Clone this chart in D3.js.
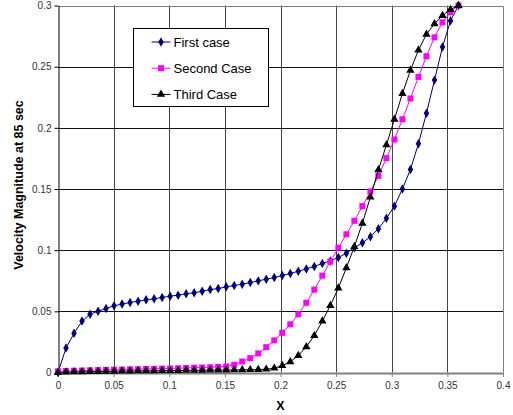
<!DOCTYPE html>
<html>
<head>
<meta charset="utf-8">
<script src="https://cdn.jsdelivr.net/npm/d3@7"></script>
<style>
	body { margin: 0; background: #fff; }
	svg { display: block; font-family: Arial, "Liberation Sans", sans-serif; }
</style>
</head>
<body>
<div id="container"></div>
<script>
// data
var xValues = [0, 0.0072, 0.0144, 0.0216, 0.0288, 0.036, 0.0432, 0.0504, 0.0576, 0.0648,
	0.072, 0.0792, 0.0864, 0.0936, 0.1008, 0.108, 0.1152, 0.1224, 0.1296, 0.1368,
	0.144, 0.1512, 0.1584, 0.1656, 0.1728, 0.18, 0.1872, 0.1944, 0.2016, 0.2088,
	0.216, 0.2232, 0.2304, 0.2376, 0.2448, 0.252, 0.2592, 0.2664, 0.2736, 0.2808,
	0.288, 0.2952, 0.3024, 0.3096, 0.3168, 0.324, 0.3312, 0.3384, 0.3456, 0.3528, 0.36];

var firstCase = [0, 0.020, 0.032, 0.042, 0.0477, 0.050, 0.0523, 0.0545, 0.0559, 0.0572,
	0.0583, 0.0594, 0.0602, 0.0613, 0.0624, 0.0632, 0.0643, 0.0652, 0.0664, 0.0678,
	0.0686, 0.070, 0.0711, 0.0722, 0.0735, 0.0749, 0.0763, 0.0776, 0.0793, 0.0809,
	0.0828, 0.0847, 0.0866, 0.0892, 0.0912, 0.094, 0.0975, 0.102, 0.106, 0.111,
	0.1175, 0.126, 0.136, 0.150, 0.166, 0.187, 0.212, 0.239, 0.266, 0.2875, 0.300];

var secondCase = [0.001, 0.0012, 0.0014, 0.0016, 0.0018, 0.002, 0.0021, 0.0023, 0.0024, 0.0026,
	0.0027, 0.0029, 0.003, 0.0032, 0.0033, 0.0035, 0.0037, 0.0039, 0.0041, 0.0043,
	0.0046, 0.005, 0.0063, 0.009, 0.0117, 0.0156, 0.0207, 0.0263, 0.0324, 0.0394,
	0.0476, 0.057, 0.0677, 0.0792, 0.0907, 0.102, 0.113, 0.124, 0.136, 0.148,
	0.1607, 0.1752, 0.1905, 0.207, 0.224, 0.2416, 0.2585, 0.274, 0.2863, 0.2945, 0.300];

var thirdCase = [0, 0.0003, 0.0005, 0.0006, 0.0007, 0.0008, 0.0009, 0.001, 0.0011, 0.0012,
	0.0013, 0.0014, 0.0014, 0.0015, 0.0016, 0.0016, 0.0017, 0.0018, 0.0018, 0.0019,
	0.002, 0.002, 0.0021, 0.0022, 0.0023, 0.0024, 0.0027, 0.0035, 0.0056, 0.0088,
	0.0139, 0.021, 0.0302, 0.042, 0.0547, 0.069, 0.0855, 0.103, 0.122, 0.1433,
	0.1656, 0.186, 0.207, 0.228, 0.247, 0.2635, 0.2765, 0.285, 0.2918, 0.2967, 0.300];

var seriesNames = ["First case", "Second Case", "Third Case"];
var xTicks = [0, 0.05, 0.1, 0.15, 0.2, 0.25, 0.3, 0.35, 0.4];
var yTicks = [0, 0.05, 0.1, 0.15, 0.2, 0.25, 0.3];

var W = 513, H = 415;
var margin = {left: 58, top: 5.5, right: 10, bottom: 42.5};

var svg = d3.select("#container").append("svg")
	.attr("width", W)
	.attr("height", H)

var x = d3.scaleLinear().domain([0, 0.4]).range([margin.left, W - margin.right]);
var y = d3.scaleLinear().domain([0, 0.3]).range([H - margin.bottom, margin.top]);

// grid
svg.append("g").selectAll("line")
	.data(xTicks.slice(1, -1)).enter()
	.append("line")
	.attr("x1", function(d) { return Math.round(x(d)) + 0.5; })
	.attr("x2", function(d) { return Math.round(x(d)) + 0.5; })
	.attr("y1", y(0.3))
	.attr("y2", y(0))
	.style("stroke", "#444")
	.style("stroke-width", 1)

svg.append("g").selectAll("line")
	.data(yTicks.slice(1, -1)).enter()
	.append("line")
	.attr("x1", x(0))
	.attr("x2", x(0.4))
	.attr("y1", function(d) { return Math.round(y(d)) + 0.5; })
	.attr("y2", function(d) { return Math.round(y(d)) + 0.5; })
	.style("stroke", "#111")
	.style("stroke-width", 1)

// top and right border
svg.append("path")
	.attr("d", "M" + (Math.round(x(0)) + 0.5) + "," + (Math.round(y(0.3)) + 0.5) +
		"H" + (Math.round(x(0.4)) + 0.5) + "V" + y(0))
	.style("fill", "none")
	.style("stroke", "#808080")

// axes
var yAxis = svg.append("g")
	.attr("transform", "translate(" + (Math.round(x(0)) + 0.5) + ",0)")
	.call(d3.axisLeft(y).tickValues(yTicks).tickSize(4).tickSizeOuter(0).tickFormat(d3.format("")))
var xAxis = svg.append("g")
	.attr("transform", "translate(0," + Math.round(y(0)) + ")")
	.call(d3.axisBottom(x).tickValues(xTicks).tickSize(4).tickSizeOuter(0).tickFormat(d3.format("")))

yAxis.select(".domain").style("stroke", "#000")
yAxis.selectAll(".tick line").style("stroke", "#000")
yAxis.selectAll("text").attr("x", -7).style("font-size", "10px").style("fill", "#333")
xAxis.select(".domain").style("stroke", "#808080").style("stroke-width", 2)
xAxis.selectAll(".tick line").style("stroke", "#808080")
xAxis.selectAll("text").attr("y", 9).style("font-size", "10px").style("fill", "#333")

// axis titles
svg.append("text")
	.attr("x", (x(0) + x(0.4)) / 2)
	.attr("y", 410)
	.attr("text-anchor", "middle")
	.style("font-size", "12.5px")
	.style("font-weight", "bold")
	.text("X")

svg.append("text")
	.attr("transform", "translate(23,185) rotate(-90)")
	.attr("text-anchor", "middle")
	.style("font-size", "12.5px")
	.style("font-weight", "bold")
	.text("Velocity Magnitude at 85 sec")

// markers
var diamond = d3.symbol().type(d3.symbolDiamond).size(26);
var square = d3.symbol().type(d3.symbolSquare).size(36);
var triangle = d3.symbol().type(d3.symbolTriangle).size(30);

var series = [
	{name: seriesNames[0], values: firstCase, color: "#000080", symbol: diamond},
	{name: seriesNames[1], values: secondCase, color: "#ff00ff", symbol: square},
	{name: seriesNames[2], values: thirdCase, color: "#000000", symbol: triangle}
];

var line = d3.line()
	.x(function(d, i) { return x(xValues[i]); })
	.y(function(d) { return y(d); });

var groups = svg.selectAll(".series")
	.data(series).enter()
	.append("g")
	.attr("class", "series")

groups.append("path")
	.attr("d", function(d) { return line(d.values); })
	.style("fill", "none")
	.style("stroke", function(d) { return d.color; })
	.style("stroke-width", 1)

groups.each(function(s) {
	d3.select(this).selectAll(".pt")
		.data(s.values).enter()
		.append("path")
		.attr("class", "pt")
		.attr("transform", function(d, i) { return "translate(" + x(xValues[i]) + "," + y(d) + ")"; })
		.attr("d", s.symbol)
		.style("fill", s.color)
})

// legend
var legend = svg.append("g").attr("transform", "translate(133.5,28.5)")
legend.append("rect")
	.attr("width", 135)
	.attr("height", 78)
	.style("fill", "#fff")
	.style("stroke", "#000")

var items = legend.selectAll(".item")
	.data(series).enter()
	.append("g")
	.attr("class", "item")
	.attr("transform", function(d, i) { return "translate(0," + (13.5 + i * 26.2) + ")"; })

items.append("line")
	.attr("x1", 18)
	.attr("x2", 37)
	.style("stroke", function(d) { return d.color; })
items.append("path")
	.attr("transform", "translate(27.5,0)")
	.attr("d", function(d) { return d.symbol(); })
	.style("fill", function(d) { return d.color; })
items.append("text")
	.attr("x", 40)
	.attr("dy", "0.35em")
	.style("font-size", "13px")
	.text(function(d) { return d.name; })
</script>
</body>
</html>
